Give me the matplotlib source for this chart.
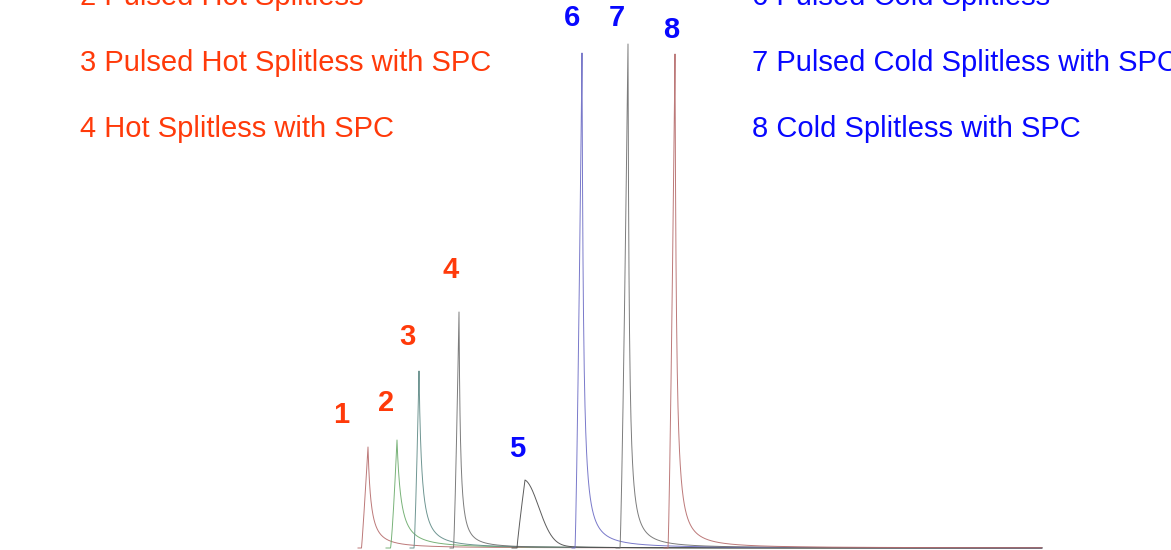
import numpy as np
import matplotlib.pyplot as plt

# retention position (chart units), peak height, rise width, tail width
peak_ids = ['1', '2', '3', '4', '5', '6', '7', '8']
apex_x = [368, 397, 419, 459, 525, 582, 628, 675]
heights = [101, 108, 177, 236, 68, 495, 504, 494]
rise_len = [6.5, 6.5, 5.0, 5.5, 8.0, 7.0, 8.0, 7.0]
rise_pow = [1.1, 1.3, 1.3, 1.3, 0.9, 1.3, 1.3, 1.3]
tail_w = [4.5, 6.0, 4.0, 2.2, 20.0, 2.3, 2.0, 2.3]
gauss_tail = [0, 0, 0, 0, 14.0, 0, 0, 0]
trace_start = [358, 386, 410, 450, 512, 572, 616, 664]
trace_end = 1042

# label positions for the peak numbers
label_x = [341, 386, 407, 451, 517, 572, 617, 671]
label_y = [415, 403, 337, 270, 449, 18, 18, 30]

hot_methods = ['2 Pulsed Hot Splitless', '3 Pulsed Hot Splitless with SPC',
               '4 Hot Splitless with SPC']
cold_methods = ['6 Pulsed Cold Splitless', '7 Pulsed Cold Splitless with SPC',
                '8 Cold Splitless with SPC']
method_baselines = [5, 71, 137]

line_colors = ['#b56a6a', '#6aaa6a', '#5f8a86', '#6e6e6e',
               '#4a4a4a', '#6a6ac4', '#6e6e6e', '#b56a6a']
hot_color = '#ff3a0a'
cold_color = '#0808ff'

W, H = 1171, 550
fig = plt.figure(figsize=(W / 100, H / 100), dpi=100)
ax = fig.add_axes([0, 0, 1, 1])
ax.set_xlim(0, W)
ax.set_ylim(0, H)
ax.axis('off')


def trace(i):
    x = np.arange(trace_start[i], trace_end, 0.25)
    dx = x - apex_x[i]
    h = heights[i]
    left = h * np.clip(1 + dx / rise_len[i], 0, None) ** rise_pow[i]
    d = np.clip(dx, 0, None)
    if gauss_tail[i] > 0:
        right = h * (0.9 * np.exp(-0.5 * (d / gauss_tail[i]) ** 2)
                     + 0.1 * (1 + d / tail_w[i]) ** -1.5)
    else:
        right = h * (1 + d / tail_w[i]) ** -1.5
    y = np.where(dx < 0, left, right)
    return x, y + 2


for i in range(len(peak_ids)):
    x, y = trace(i)
    ax.plot(x, y, color=line_colors[i], lw=0.7, alpha=0.9)

for i, pid in enumerate(peak_ids):
    c = hot_color if i < 4 else cold_color
    ax.text(label_x[i], H - label_y[i], pid, color=c, fontsize=21,
            fontweight='bold', family='Liberation Sans', ha='center', va='center')

for txt, b in zip(hot_methods, method_baselines):
    ax.text(80, H - b, txt, color=hot_color, fontsize=21,
            family='Liberation Sans', va='baseline')
for txt, b in zip(cold_methods, method_baselines):
    ax.text(752, H - b, txt, color=cold_color, fontsize=21,
            family='Liberation Sans', va='baseline')

fig.savefig('out.png', dpi=100)
